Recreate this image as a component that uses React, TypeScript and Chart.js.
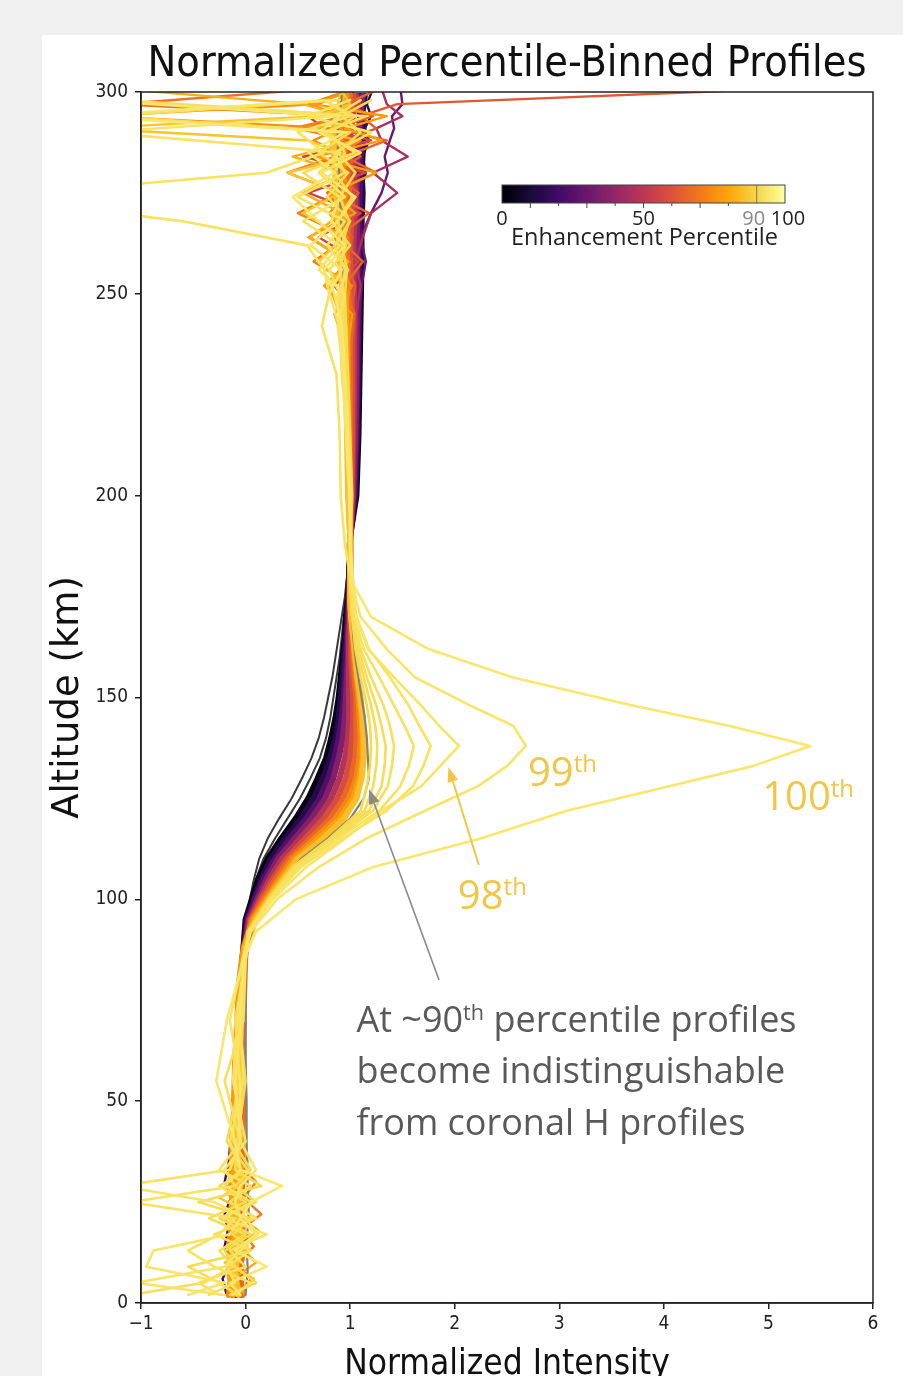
import React, { useEffect, useRef } from 'react';
import { Chart, registerables } from 'chart.js';

Chart.register(...registerables);

// ---------------- DATA ----------------
// Altitude grid (km) for the core percentile profiles
const ALT = [2, 8, 15, 22, 30, 40, 50, 60, 70, 80, 88, 95, 100, 105, 110, 115, 120, 125, 130, 135, 140, 145, 150, 155, 160, 165, 170, 175, 180, 190, 200, 215, 230, 245, 260, 275, 290, 299];

// Dark reference profiles (left edge of the fan)
const REF_DARK_A = [-0.08, -0.09, -0.08, -0.09, -0.08, -0.07, -0.06, -0.06, -0.05, -0.04, -0.03, 0.01, 0.04, 0.08, 0.13, 0.21, 0.32, 0.44, 0.54, 0.63, 0.70, 0.75, 0.79, 0.83, 0.86, 0.89, 0.92, 0.95, 0.97, 1.00, 1.05, 1.07, 1.08, 1.09, 1.10, 1.09, 1.11, 1.09];
const REF_DARK_B = [-0.07, -0.08, -0.07, -0.08, -0.07, -0.06, -0.06, -0.05, -0.05, -0.04, -0.02, 0.02, 0.05, 0.10, 0.17, 0.28, 0.40, 0.52, 0.62, 0.71, 0.77, 0.81, 0.84, 0.87, 0.90, 0.92, 0.94, 0.96, 0.98, 1.00, 1.05, 1.06, 1.07, 1.08, 1.09, 1.08, 1.10, 1.08];

// Percentile-binned profiles forming the dense fan
const FAN_PCT = [3, 13, 24, 36, 48, 58, 66, 73, 79, 85];
const FAN_P03 = [-0.12, -0.10, -0.13, -0.11, -0.12, -0.09, -0.08, -0.07, -0.06, -0.05, -0.02, 0.00, 0.06, 0.12, 0.21, 0.34, 0.48, 0.60, 0.69, 0.77, 0.82, 0.86, 0.89, 0.91, 0.93, 0.95, 0.96, 0.98, 0.99, 1.00, 1.06, 1.08, 1.09, 1.10, 1.11, 1.10, 1.13, 1.10];
const FAN_P13 = [-0.10, -0.12, -0.10, -0.12, -0.09, -0.08, -0.07, -0.07, -0.06, -0.04, -0.02, 0.01, 0.08, 0.15, 0.24, 0.38, 0.53, 0.65, 0.74, 0.81, 0.86, 0.89, 0.91, 0.93, 0.94, 0.96, 0.97, 0.98, 0.99, 1.00, 1.05, 1.07, 1.08, 1.09, 1.10, 1.12, 1.09, 1.14];
const FAN_P24 = [-0.08, -0.09, -0.11, -0.08, -0.10, -0.07, -0.07, -0.06, -0.05, -0.04, -0.01, 0.02, 0.09, 0.17, 0.28, 0.42, 0.58, 0.71, 0.79, 0.85, 0.89, 0.92, 0.94, 0.95, 0.96, 0.97, 0.98, 0.99, 0.99, 1.00, 1.04, 1.06, 1.07, 1.08, 1.08, 1.09, 1.11, 1.08];
const FAN_P36 = [-0.09, -0.06, -0.08, -0.10, -0.07, -0.08, -0.06, -0.05, -0.05, -0.03, -0.01, 0.03, 0.11, 0.20, 0.31, 0.47, 0.63, 0.76, 0.84, 0.89, 0.93, 0.95, 0.96, 0.97, 0.98, 0.98, 0.99, 0.99, 1.00, 1.00, 1.03, 1.05, 1.06, 1.06, 1.07, 1.06, 1.08, 1.12];
const FAN_P48 = [-0.05, -0.07, -0.05, -0.06, -0.08, -0.05, -0.04, -0.04, -0.03, -0.02, 0.00, 0.04, 0.13, 0.23, 0.35, 0.52, 0.69, 0.82, 0.90, 0.95, 0.98, 0.99, 0.99, 0.99, 0.99, 0.99, 1.00, 1.00, 1.00, 1.00, 1.02, 1.03, 1.04, 1.04, 1.03, 1.05, 1.00, 1.06];
const FAN_P58 = [-0.04, -0.05, -0.03, -0.06, -0.04, -0.04, -0.03, -0.03, -0.02, -0.02, 0.00, 0.05, 0.15, 0.26, 0.39, 0.57, 0.75, 0.88, 0.96, 1.00, 1.02, 1.03, 1.03, 1.02, 1.01, 1.01, 1.00, 1.00, 1.00, 1.00, 1.01, 1.02, 1.02, 1.02, 1.00, 1.02, 0.97, 1.03];
const FAN_P66 = [-0.03, -0.05, -0.02, -0.04, -0.03, -0.03, -0.02, -0.02, -0.02, -0.01, 0.00, 0.06, 0.17, 0.29, 0.42, 0.62, 0.81, 0.94, 1.01, 1.05, 1.06, 1.06, 1.06, 1.04, 1.03, 1.02, 1.01, 1.00, 1.00, 1.00, 1.00, 1.00, 1.00, 0.99, 0.97, 0.99, 0.93, 1.00];
const FAN_P73 = [-0.16, -0.13, -0.15, -0.12, -0.14, -0.12, -0.11, -0.10, -0.08, -0.06, -0.02, 0.07, 0.19, 0.32, 0.45, 0.66, 0.86, 0.99, 1.06, 1.09, 1.10, 1.09, 1.08, 1.06, 1.04, 1.03, 1.01, 1.00, 1.00, 1.00, 0.99, 0.99, 0.98, 0.97, 0.94, 0.95, 0.90, 0.97];
const FAN_P79 = [-0.12, -0.16, -0.10, -0.14, -0.11, -0.13, -0.10, -0.09, -0.07, -0.05, -0.01, 0.08, 0.21, 0.34, 0.48, 0.70, 0.90, 1.03, 1.09, 1.12, 1.12, 1.11, 1.09, 1.07, 1.05, 1.03, 1.01, 1.00, 1.00, 1.00, 0.99, 0.98, 0.97, 0.96, 0.92, 0.91, 0.86, 0.94];
const FAN_P85 = [-0.07, -0.10, -0.05, -0.08, -0.05, -0.09, -0.05, -0.06, -0.04, -0.03, 0.00, 0.10, 0.22, 0.36, 0.50, 0.74, 0.94, 1.06, 1.11, 1.13, 1.13, 1.12, 1.10, 1.07, 1.05, 1.03, 1.01, 1.00, 1.00, 1.00, 0.98, 0.97, 0.96, 0.94, 0.90, 0.87, 0.83, 0.92];

// Coronal H profile (grey)
const CORONAL_H = [0.00, 0.02, 0.01, 0.03, 0.02, 0.01, 0.01, 0.00, 0.00, 0.00, 0.01, 0.10, 0.23, 0.37, 0.53, 0.78, 1.00, 1.13, 1.18, 1.17, 1.16, 1.14, 1.11, 1.08, 1.05, 1.03, 1.02, 1.01, 1.00, 1.00, 0.99, 0.98, 0.97, 0.95, 0.93, 0.90, 0.88, 0.92];

// Altitude grid (km) for the top percentile (yellow) profiles
const ALT_Y = [2, 5, 9, 13, 17, 21, 25, 29, 33, 40, 55, 70, 85, 92, 100, 108, 115, 122, 128, 133, 138, 143, 148, 155, 162, 170, 178, 188, 200, 215, 230, 242, 250, 256, 262, 268, 274, 280, 285, 290, 294, 298];
const TOP_PCT = [92, 93, 94, 95, 96, 97, 98, 99, 100];
const TOP_P92 = [-0.15, 0.10, -0.10, -0.20, 0.05, -0.25, 0.10, -0.10, 0.05, -0.12, -0.08, -0.03, 0.00, 0.02, 0.22, 0.45, 0.80, 1.10, 1.16, 1.19, 1.20, 1.19, 1.16, 1.10, 1.05, 1.02, 1.00, 1.00, 1.01, 0.99, 0.97, 0.96, 0.95, 0.97, 0.92, 0.99, 0.90, 1.05, 0.88, 1.10, 0.92, 1.20];
const TOP_P93 = [-0.08, -0.25, -0.55, 0.05, -0.12, 0.05, -0.45, 0.15, -0.10, -0.08, 0.00, -0.06, 0.00, 0.02, 0.22, 0.46, 0.82, 1.14, 1.22, 1.25, 1.26, 1.24, 1.20, 1.13, 1.06, 1.02, 1.00, 1.00, 1.02, 1.00, 0.98, 0.96, 0.94, 0.90, 0.96, 0.88, 1.02, 0.85, 0.95, 0.80, 1.05, 0.75];
const TOP_P94 = [-1.10, -0.40, -0.12, -0.25, 0.00, -0.35, 0.00, -0.25, 0.02, -0.18, -0.05, -0.10, 0.00, 0.03, 0.22, 0.47, 0.84, 1.18, 1.30, 1.33, 1.34, 1.30, 1.25, 1.16, 1.08, 1.02, 1.00, 1.00, 1.00, 0.98, 0.96, 0.95, 0.92, 0.95, 0.85, 1.00, 0.78, 0.98, 0.70, 1.00, -1.30, 0.90];
const TOP_P95 = [-0.35, -0.10, -0.18, 0.05, -0.30, 0.10, -0.15, 0.05, -0.25, -0.05, -0.20, -0.02, 0.00, 0.03, 0.23, 0.48, 0.86, 1.22, 1.36, 1.40, 1.42, 1.38, 1.32, 1.20, 1.10, 1.03, 1.00, 1.00, 1.01, 0.98, 0.95, 0.93, 0.90, 0.80, 1.00, 0.82, 0.90, 0.55, 1.05, 0.75, 1.15, -1.20];
const TOP_P96 = [-0.25, -0.45, 0.00, -0.15, 0.20, -0.20, 0.05, -0.20, -0.05, -0.15, -0.02, -0.05, 0.00, 0.03, 0.23, 0.50, 0.88, 1.28, 1.48, 1.56, 1.61, 1.52, 1.42, 1.28, 1.13, 1.04, 1.03, 1.00, 1.00, 0.97, 0.92, 0.90, 0.88, 0.98, 0.78, 0.95, 0.50, 0.95, 0.85, 1.20, 0.60, 1.00];
const TOP_P97 = [-0.12, 0.05, -0.30, -0.55, -0.25, -0.10, -1.10, -0.10, -0.20, 0.00, -0.12, -0.08, -0.01, 0.04, 0.24, 0.53, 0.92, 1.35, 1.60, 1.70, 1.77, 1.66, 1.56, 1.38, 1.18, 1.06, 1.01, 0.95, 0.91, 0.90, 0.87, 0.73, 0.80, 0.75, 0.59, -0.60, -2.50, 0.20, 0.75, 0.50, 1.00, 0.75];
const TOP_P98 = [-0.20, -1.05, -0.20, -0.05, 0.12, 0.00, -0.30, -1.20, -0.15, -0.05, -0.05, -0.15, -0.03, 0.04, 0.26, 0.58, 0.95, 1.30, 1.68, 1.86, 2.04, 1.85, 1.68, 1.42, 1.17, 1.06, 1.01, 1.00, 1.00, 0.97, 0.94, 0.88, 0.95, 0.70, 0.90, 0.55, 0.95, 0.70, 0.90, -1.40, 0.85, 1.10];
const TOP_P99 = [-0.55, -0.20, -0.95, -0.88, -0.15, -0.05, -0.10, -0.05, 0.10, -0.05, -0.10, -0.05, -0.02, 0.05, 0.30, 0.70, 1.15, 1.72, 2.22, 2.50, 2.68, 2.56, 2.15, 1.62, 1.35, 1.10, 1.02, 1.00, 0.99, 0.96, 0.93, 0.90, 0.80, 0.92, 0.62, 0.88, 1.05, 0.72, 1.10, 0.70, 0.90, -1.50];
const TOP_P100 = [-0.05, -0.15, 0.20, -0.10, 0.10, -0.05, 0.05, 0.35, -0.05, -0.10, -0.28, -0.18, -0.02, 0.10, 0.48, 1.22, 2.24, 3.08, 4.05, 4.85, 5.40, 4.62, 3.70, 2.55, 1.75, 1.20, 1.03, 1.00, 1.00, 0.98, 0.95, 0.92, 0.85, 0.75, 0.95, 0.70, 0.45, 0.85, 0.60, 0.95, -1.60, 0.80];

// Noisy upper-atmosphere segments of mid percentiles
const ALT_UPPER = [235, 245, 252, 258, 264, 270, 275, 280, 284, 288, 291, 294, 297, 301];
const UPPER_PCT = [15, 30, 45, 55, 62, 65, 68, 72, 75, 78, 82, 86];
const UPPER_P15 = [1.08, 1.10, 1.09, 1.12, 1.08, 1.13, 1.10, 1.15, 1.12, 1.18, 1.14, 1.20, 1.16, 1.22];
const UPPER_P30 = [1.07, 1.09, 1.11, 1.15, 1.10, 1.20, 1.30, 1.36, 1.33, 1.38, 1.42, 1.40, 1.50, 1.48];
const UPPER_P45 = [1.05, 1.06, 1.10, 1.05, 1.12, 1.20, 1.45, 1.22, 1.55, 1.30, 1.25, 1.50, 1.35, 1.30];
const UPPER_P55 = [1.03, 1.05, 0.85, 1.08, 0.70, 1.10, 0.60, 1.15, 0.55, 1.20, 0.75, 0.60, 1.10, 1.00];
const UPPER_P62 = [1.02, 1.00, 1.05, 0.95, 1.02, 0.90, 1.08, 0.85, 1.10, 0.95, 1.25, 1.10, 1.45, 5.30];
const UPPER_P65 = [1.00, 1.04, 0.95, 1.12, 0.88, 1.18, 0.80, 1.25, 0.95, 1.35, 0.85, 1.22, 0.95, 1.30];
const UPPER_P68 = [1.00, 0.98, 0.92, 1.00, 0.85, 0.95, 0.78, 1.00, 0.70, 0.92, 0.55, 1.00, -1.20, 0.80];
const UPPER_P72 = [0.99, 0.85, 1.02, 0.65, 0.98, 0.50, 0.90, 0.40, 0.85, 1.10, 0.45, 0.95, 0.60, 1.05];
const UPPER_P75 = [0.99, 0.96, 1.00, 0.88, 0.96, 0.80, 0.98, 0.72, 0.95, 0.65, 0.90, -1.40, 0.70, 1.00];
const UPPER_P78 = [0.97, 1.02, 0.75, 0.98, 0.60, 1.05, 0.82, 1.25, 0.68, 1.30, 0.95, 1.35, 0.65, 1.10];
const UPPER_P82 = [0.98, 0.90, 0.80, 0.98, 0.62, 0.92, 0.55, 0.95, 0.45, 1.05, 0.70, 0.95, 0.55, -1.30];
const UPPER_P86 = [0.97, 0.85, 0.96, 0.70, 0.93, 0.55, 0.90, 0.40, 1.00, 0.60, -1.50, 0.70, 1.00, 0.90];

// Noisy lower-atmosphere segments of mid percentiles
const ALT_LOWER = [2, 6, 10, 14, 18, 22, 26, 30, 35, 42];
const LOWER_PCT = [20, 70, 80, 86];
const LOWER_P20 = [-0.18, -0.22, -0.15, -0.20, -0.17, -0.20, -0.14, -0.20, -0.16, -0.14];
const LOWER_P70 = [-0.05, 0.05, -0.10, 0.08, -0.05, 0.15, -0.02, 0.10, -0.08, -0.05];
const LOWER_P80 = [0.00, -0.12, 0.10, -0.05, 0.12, -0.10, 0.05, -0.15, 0.02, -0.04];
const LOWER_P86 = [-0.08, 0.08, -0.20, 0.02, -0.12, 0.05, -0.25, 0.00, -0.10, -0.03];

// Axis ticks
const X_TICKS = [-1, 0, 1, 2, 3, 4, 5, 6];
const Y_TICKS = [0, 50, 100, 150, 200, 250, 300];
const CBAR_TICKS = [0, 50, 90, 100];

// ---------------- STYLE ----------------
const INFERNO = ['#000004', '#160b39', '#420a68', '#6a176e', '#932667', '#bc3754', '#dd513a', '#f37819', '#fca50a', '#f6d746', '#fcffa4'];
const CONDENSED = "'DejaVu Sans Condensed', 'Liberation Sans Narrow', 'DejaVu Sans', sans-serif";
const SANS = "'DejaVu Sans', sans-serif";
const HUMAN = "'Open Sans', Lato, sans-serif";
const GOLD = '#f1c644';

function hex(c: string) {
  return [parseInt(c.slice(1, 3), 16), parseInt(c.slice(3, 5), 16), parseInt(c.slice(5, 7), 16)];
}
function inferno(t: number) {
  const s = Math.max(0, Math.min(1, t)) * 10;
  const i = Math.min(9, Math.floor(s));
  const f = s - i;
  const a = hex(INFERNO[i]);
  const b = hex(INFERNO[i + 1]);
  const m = a.map((v, k) => Math.round(v + (b[k] - v) * f));
  return `rgb(${m[0]},${m[1]},${m[2]})`;
}
function pctColor(p: number) {
  // deepen the palest yellows a little so they read like the reference
  return inferno(p <= 90 ? p / 100 : 0.9 + ((p - 90) / 100) * 0.4);
}

function pts(xs: number[], alts: number[]) {
  return xs.map((x, i) => ({ x, y: alts[i] }));
}
function line(data: { x: number; y: number }[], color: string, width: number) {
  return {
    data,
    borderColor: color,
    borderWidth: width,
    pointRadius: 0,
    tension: 0,
    fill: false,
    borderJoinStyle: 'round' as const,
    borderCapStyle: 'round' as const,
    clip: 0,
  };
}

type Part = { t: string; sup?: boolean };
function drawRich(ctx: CanvasRenderingContext2D, parts: Part[], x: number, y: number, size: number, family: string, color: string) {
  let cx = x;
  ctx.fillStyle = color;
  ctx.textAlign = 'left';
  ctx.textBaseline = 'alphabetic';
  for (const p of parts) {
    const s = p.sup ? size * 0.6 : size;
    ctx.font = `${s}px ${family}`;
    ctx.fillText(p.t, cx, p.sup ? y - size * 0.34 : y);
    cx += ctx.measureText(p.t).width;
  }
}
function arrow(ctx: CanvasRenderingContext2D, x1: number, y1: number, x2: number, y2: number, color: string, w: number, hl: number, hw: number) {
  const ang = Math.atan2(y2 - y1, x2 - x1);
  const bx = x2 - hl * Math.cos(ang);
  const by = y2 - hl * Math.sin(ang);
  ctx.strokeStyle = color;
  ctx.lineWidth = w;
  ctx.beginPath();
  ctx.moveTo(x1, y1);
  ctx.lineTo(bx, by);
  ctx.stroke();
  ctx.fillStyle = color;
  ctx.beginPath();
  ctx.moveTo(x2, y2);
  ctx.lineTo(bx + (hw / 2) * Math.sin(ang), by - (hw / 2) * Math.cos(ang));
  ctx.lineTo(bx - (hw / 2) * Math.sin(ang), by + (hw / 2) * Math.cos(ang));
  ctx.closePath();
  ctx.fill();
}

const overlay = {
  id: 'overlay',
  afterDraw(chart: any) {
    const { ctx, chartArea: a } = chart;
    const xs = chart.scales.x;
    const ys = chart.scales.y;
    const X = (v: number) => xs.getPixelForValue(v);
    const Y = (v: number) => ys.getPixelForValue(v);
    ctx.save();

    // frame
    ctx.strokeStyle = '#222';
    ctx.lineWidth = 1.5;
    ctx.strokeRect(a.left, a.top, a.right - a.left, a.bottom - a.top);

    // title
    ctx.fillStyle = '#111';
    ctx.font = `43px ${CONDENSED}`;
    ctx.textAlign = 'center';
    ctx.textBaseline = 'alphabetic';
    ctx.fillText('Normalized Percentile-Binned Profiles', (a.left + a.right) / 2, a.top - 16, 719);

    // colour bar
    const cl = a.left + 361;
    const cw = 283;
    const ct = a.top + 93;
    const ch = 18;
    const g = ctx.createLinearGradient(cl, 0, cl + cw, 0);
    INFERNO.forEach((c, i) => g.addColorStop(i / 10, c));
    ctx.fillStyle = g;
    ctx.fillRect(cl, ct, cw, ch);
    ctx.strokeStyle = '#777';
    ctx.lineWidth = 1;
    ctx.beginPath();
    ctx.moveTo(cl + cw * 0.9, ct);
    ctx.lineTo(cl + cw * 0.9, ct + ch);
    ctx.stroke();
    ctx.strokeStyle = '#444';
    ctx.strokeRect(cl, ct, cw, ch);
    for (let k = 1; k <= 8; k++) {
      const tx = cl + (cw * k) / 10;
      ctx.beginPath();
      ctx.moveTo(tx, ct + ch);
      ctx.lineTo(tx, ct + ch + (k % 2 ? 5 : 3));
      ctx.stroke();
    }
    ctx.font = `20px ${HUMAN}`;
    ctx.textAlign = 'center';
    CBAR_TICKS.forEach((v) => {
      ctx.fillStyle = v === 90 ? '#888' : '#222';
      const shift = v === 100 ? 3 : v === 90 ? -3 : 0;
      ctx.fillText(String(v), cl + (cw * v) / 100 + shift, ct + ch + 22);
    });
    ctx.fillStyle = '#222';
    ctx.font = `23.5px ${HUMAN}`;
    ctx.fillText('Enhancement Percentile', cl + cw / 2 + 1, ct + ch + 42);

    // arrows
    arrow(ctx, X(1.85), Y(80), X(1.18), Y(127.3), '#8a8a8a', 1.6, 15, 11);
    arrow(ctx, X(2.23), Y(108.5), X(1.94), Y(132.8), GOLD, 2, 15, 11);

    // percentile labels
    drawRich(ctx, [{ t: '99' }, { t: 'th', sup: true }], X(2.70), Y(128.1), 40, HUMAN, GOLD);
    drawRich(ctx, [{ t: '100' }, { t: 'th', sup: true }], X(4.94), Y(122.1), 40, HUMAN, GOLD);
    drawRich(ctx, [{ t: '98' }, { t: 'th', sup: true }], X(2.03), Y(97.6), 40, HUMAN, GOLD);

    // note
    const noteColor = '#595959';
    drawRich(ctx, [{ t: 'At ~90' }, { t: 'th', sup: true }, { t: ' percentile profiles' }], X(1.06), Y(67.1), 36, HUMAN, noteColor);
    drawRich(ctx, [{ t: 'become indistinguishable' }], X(1.06), Y(54.5), 36, HUMAN, noteColor);
    drawRich(ctx, [{ t: 'from coronal H profiles' }], X(1.06), Y(41.6), 36, HUMAN, noteColor);

    ctx.restore();
  },
};

export default function App() {
  const ref = useRef<HTMLCanvasElement>(null);

  useEffect(() => {
    document.body.style.margin = '0';
    const canvas = ref.current;
    if (!canvas) return;

    const layers: any[] = [];
    layers.push(line(pts(REF_DARK_A, ALT), '#3a3a3a', 2));
    layers.push(line(pts(REF_DARK_B, ALT), '#3a3a3a', 2));

    const fan = [FAN_P03, FAN_P13, FAN_P24, FAN_P36, FAN_P48, FAN_P58, FAN_P66, FAN_P73, FAN_P79, FAN_P85];
    const upper = [UPPER_P15, UPPER_P30, UPPER_P45, UPPER_P55, UPPER_P62, UPPER_P65, UPPER_P68, UPPER_P72, UPPER_P75, UPPER_P78, UPPER_P82, UPPER_P86];
    const lower = [LOWER_P20, LOWER_P70, LOWER_P80, LOWER_P86];
    const mids: { p: number; ds: any }[] = [];
    fan.forEach((xs, i) => mids.push({ p: FAN_PCT[i], ds: line(pts(xs, ALT), pctColor(FAN_PCT[i]), 6) }));
    upper.forEach((xs, i) => mids.push({ p: UPPER_PCT[i], ds: line(pts(xs, ALT_UPPER), pctColor(UPPER_PCT[i]), 2.4) }));
    lower.forEach((xs, i) => mids.push({ p: LOWER_PCT[i], ds: line(pts(xs, ALT_LOWER), pctColor(LOWER_PCT[i]), 2.4) }));
    mids.sort((a, b) => a.p - b.p).forEach((m) => layers.push(m.ds));

    layers.push(line(pts(CORONAL_H, ALT), '#808080', 2.2));

    const tops = [TOP_P92, TOP_P93, TOP_P94, TOP_P95, TOP_P96, TOP_P97, TOP_P98, TOP_P99, TOP_P100];
    tops.forEach((xs, i) => layers.push(line(pts(xs, ALT_Y), pctColor(TOP_PCT[i]), 2.6)));

    const datasets = layers.slice().reverse();

    const tickFont = { family: CONDENSED, size: 19 };
    const chart = new Chart(canvas, {
      type: 'line',
      data: { datasets },
      options: {
        animation: false,
        responsive: false,
        devicePixelRatio: 1,
        layout: { padding: { left: 42, right: 30, top: 92, bottom: 0 } },
        plugins: { legend: { display: false }, tooltip: { enabled: false }, title: { display: false } },
        scales: {
          x: {
            type: 'linear',
            min: -1,
            max: 6,
            afterBuildTicks: (s: any) => { s.ticks = X_TICKS.map((v) => ({ value: v })); },
            afterFit: (s: any) => { s.height = 97; },
            ticks: {
              font: tickFont,
              color: '#222',
              padding: 4,
              callback: (v: any) => (Number(v) < 0 ? '\u2212' + Math.abs(Number(v)) : String(v)),
            },
            grid: { drawOnChartArea: false, drawTicks: true, tickLength: 6, color: '#222', lineWidth: 1.5 },
            border: { display: true, color: '#222', width: 1.5 },
            title: { display: true, text: 'Normalized Intensity', font: { family: CONDENSED, size: 35 }, color: '#111', padding: { top: 0, bottom: 14 } },
          },
          y: {
            type: 'linear',
            min: 0,
            max: 300,
            afterBuildTicks: (s: any) => { s.ticks = Y_TICKS.map((v) => ({ value: v })); },
            afterFit: (s: any) => { s.width = 99; },
            ticks: { font: tickFont, color: '#222', padding: 7 },
            grid: { drawOnChartArea: false, drawTicks: true, tickLength: 6, color: '#222', lineWidth: 1.5 },
            border: { display: true, color: '#222', width: 1.5 },
            title: { display: true, text: 'Altitude (km)', font: { family: SANS, size: 37 }, color: '#111', padding: { top: 4, bottom: 0 } },
          },
        },
      } as any,
      plugins: [overlay],
    });
    return () => chart.destroy();
  }, []);

  return (
    <div style={{ position: 'relative', width: 903, height: 1376, overflow: 'hidden', background: '#f0f0f0' }}>
      <div style={{ position: 'absolute', left: 42, top: 35, right: 0, bottom: 0, background: '#ffffff' }} />
      <canvas ref={ref} width={903} height={1400} style={{ position: 'absolute', left: 0, top: 0, width: 903, height: 1400 }} />
    </div>
  );
}
